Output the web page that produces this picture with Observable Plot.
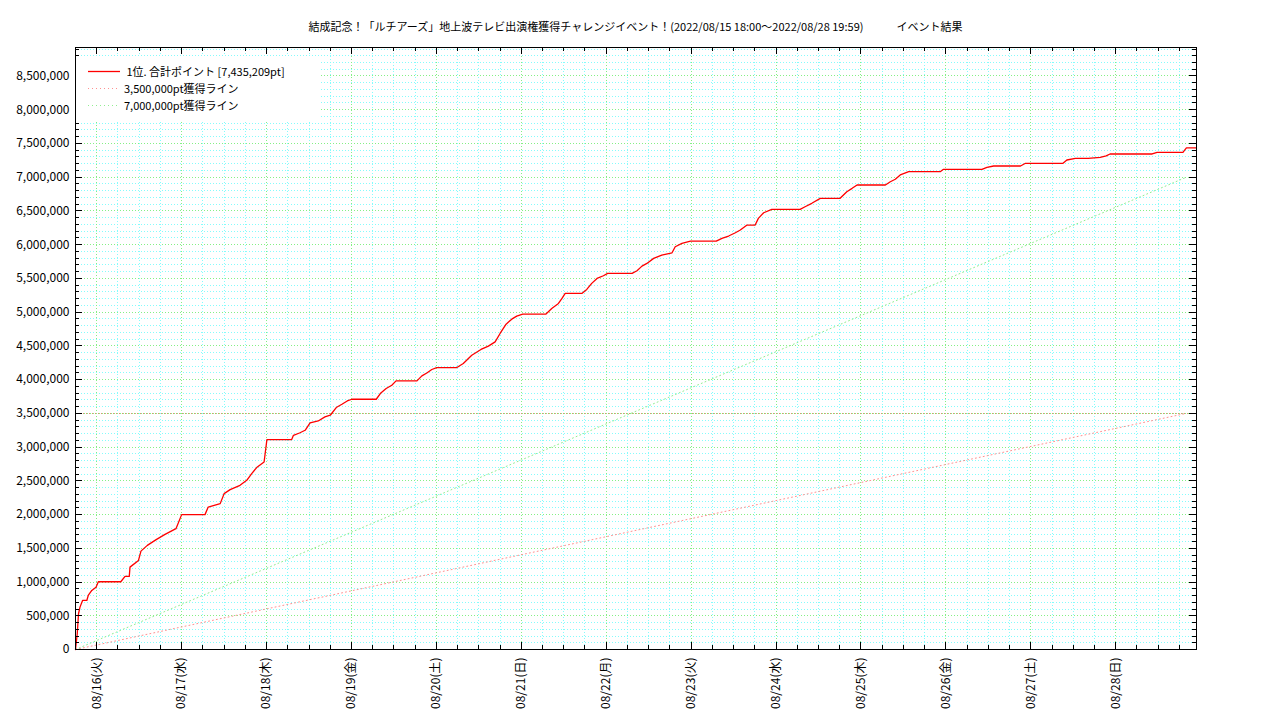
<!DOCTYPE html>
<html><head><meta charset="utf-8">
<script src="https://cdn.jsdelivr.net/npm/d3@7"></script>
<script src="https://cdn.jsdelivr.net/npm/@observablehq/plot@0.6"></script>
<style>
body{margin:0;background:#fff;font-family:"Noto Sans CJK JP","Noto Sans",sans-serif;color:#000;}
#wrap{position:relative;width:1280px;height:720px;overflow:hidden;}
#title{position:absolute;left:75px;width:1121px;top:17px;text-align:center;font-size:11px;line-height:18px;white-space:pre;}
#chart{position:absolute;left:0;top:40px;}
#legend{position:absolute;left:76px;top:56px;width:245px;height:65px;background:#fff;font-size:11px;}
#legend svg{position:absolute;left:0;top:0;}
#legend .t{position:absolute;white-space:pre;line-height:14px;}
</style></head>
<body>
<div id="wrap">
  <div id="title"></div>
  <div id="chart"></div>
  <div id="legend"></div>
</div>
<script>
// ---- data ----
const eventTitle = "結成記念！「ルチアーズ」地上波テレビ出演権獲得チャレンジイベント！(2022/08/15 18:00〜2022/08/28 19:59)";
const resultLabel = "イベント結果";
const eventStart = "2022-08-15T18:00:00Z";
const eventEnd = "2022-08-28T19:59:00Z";
const axisEnd = "2022-08-28T22:50:00Z";
const rank = 1;
const finalPoints = 7435209;
const targetA = 3500000;
const targetB = 7000000;

// elapsed hours since the event start
const hoursSinceStart = [
  0, 0.5, 0.85, 1.27, 2.0, 3.2, 3.6, 4.6, 5.8, 6.45,
  12.8, 14.0, 15.2, 15.4, 17.8, 18.5, 20.3, 22.8, 25.3, 28.4,
  30.0, 36.6, 37.5, 40.9, 42.0, 43.7, 46.5, 48.4, 49.8, 51.2,
  53.3, 54.1, 61.1, 61.6, 63.3, 64.9, 66.3, 68.6, 70.5, 72.0,
  73.7, 75.3, 76.8, 78.1, 85.0, 86.3, 87.8, 89.4, 90.6, 96.5,
  97.9, 99.3, 100.7, 102.1, 107.8, 109.6, 112.0, 114.6, 116.7, 118.6,
  120.0, 121.7, 123.3, 124.7, 126.4, 132.9, 134.6, 136.5, 137.5, 138.4,
  143.1, 144.5, 145.9, 147.4, 149.2, 150.4, 157.3, 158.7, 160.1, 161.5,
  163.4, 165.7, 168.6, 169.5, 171.4, 173.8, 181.1, 182.7, 184.6, 186.5,
  187.9, 189.8, 192.1, 193.0, 194.5, 196.8, 204.8, 206.2, 208.1, 210.5,
  216.1, 218.0, 219.5, 220.9, 228.9, 230.3, 231.7, 233.1, 235.5, 244.4,
  245.3, 256.2, 257.6, 259.5, 267.1, 268.5, 279.1, 280.2, 282.6, 286.2,
  289.6, 291.3, 292.4, 304.3, 305.7, 313.0, 313.98, 316.8
];
// cumulative points of the 1st place
const totalPoints = [
  0, 237000, 530000, 628000, 727000, 727000, 801000, 875000, 924000, 1004000,
  1004000, 1083000, 1083000, 1221000, 1320000, 1458000, 1543000, 1628000, 1706000, 1791000,
  1999000, 1999000, 2111000, 2162000, 2310000, 2369000, 2433000, 2507000, 2607000, 2696000,
  2779000, 3111000, 3111000, 3175000, 3209000, 3249000, 3358000, 3387000, 3447000, 3472000,
  3586000, 3635000, 3684000, 3709000, 3709000, 3803000, 3868000, 3917000, 3981000, 3981000,
  4055000, 4099000, 4150000, 4179000, 4179000, 4239000, 4362000, 4447000, 4496000, 4559000,
  4684000, 4822000, 4896000, 4941000, 4970000, 4970000, 5055000, 5129000, 5203000, 5277000,
  5277000, 5337000, 5426000, 5500000, 5539000, 5574000, 5574000, 5613000, 5682000, 5722000,
  5797000, 5846000, 5880000, 5969000, 6019000, 6053000, 6053000, 6093000, 6128000, 6177000,
  6217000, 6291000, 6291000, 6390000, 6473000, 6524000, 6524000, 6562000, 6613000, 6687000,
  6687000, 6785000, 6835000, 6884000, 6884000, 6933000, 6969000, 7033000, 7082000, 7082000,
  7117000, 7117000, 7147000, 7166000, 7166000, 7206000, 7206000, 7255000, 7280000, 7280000,
  7295000, 7315000, 7344000, 7344000, 7369000, 7369000, 7435209, 7435209
];

const dayTickDates = ["2022-08-16","2022-08-17","2022-08-18","2022-08-19","2022-08-20","2022-08-21","2022-08-22","2022-08-23","2022-08-24","2022-08-25","2022-08-26","2022-08-27","2022-08-28"];
const dayTickLabels = ["08/16(火)","08/17(水)","08/18(木)","08/19(金)","08/20(土)","08/21(日)","08/22(月)","08/23(火)","08/24(水)","08/25(木)","08/26(金)","08/27(土)","08/28(日)"];
const yTickValues = [0,500000,1000000,1500000,2000000,2500000,3000000,3500000,4000000,4500000,5000000,5500000,6000000,6500000,7000000,7500000,8000000,8500000];

// ---- build ----
const fmt = d3.format(",");
const t0 = new Date(eventStart), t1 = new Date(eventEnd), tEnd = new Date(axisEnd);
const series = hoursSinceStart.map((h, i) => ({t: new Date(+t0 + h * 3600e3), v: totalPoints[i]}));
const lineA = [{t: t0, v: 0}, {t: t1, v: targetA}];
const lineB = [{t: t0, v: 0}, {t: t1, v: targetB}];
const dayDates = dayTickDates.map(s => new Date(s + "T00:00:00Z"));
const labelMap = new Map(dayDates.map((d, i) => [+d, dayTickLabels[i]]));
const minorX = d3.utcHour.every(6).range(t0, tEnd).filter(d => d.getUTCHours() !== 0);
const yMax = finalPoints * 1.2;
const minorY = d3.range(0, yMax, 100000).filter(v => v % 500000 !== 0);

const W = 1280, H = 680, mL = 75, mR = 84, mT = 7, mB = 71;
const pH = H - mT - mB, pW = W - mL - mR;
const dots = "1,2";
const cyan = "#85fcfc", green = "#85f085";
const pink = "#ff9090", lgreen = "#90ee90";
const crisp = {shapeRendering: "crispEdges"};

const chart = Plot.plot({
  width: W, height: H,
  marginLeft: mL, marginRight: mR, marginTop: mT, marginBottom: mB,
  x: {type: "utc", domain: [t0, tEnd]},
  y: {domain: [0, yMax]},
  style: {fontFamily: "'Noto Sans CJK JP', sans-serif", fontSize: "12px", color: "#000", background: "#fff", overflow: "visible"},
  marks: [
    Plot.ruleX(minorX, {stroke: cyan, strokeDasharray: dots, ...crisp}),
    Plot.ruleY(minorY, {stroke: cyan, strokeDasharray: dots, ...crisp}),
    Plot.ruleX(dayDates, {stroke: green, strokeDasharray: dots, ...crisp}),
    Plot.ruleY(yTickValues, {stroke: green, strokeDasharray: dots, ...crisp}),
    Plot.ruleY([targetA], {stroke: "#e09070", strokeDasharray: dots, strokeDashoffset: 1, ...crisp}),
    Plot.line(lineA, {x: "t", y: "v", stroke: pink, strokeDasharray: "1,3", strokeWidth: 1}),
    Plot.line(lineB, {x: "t", y: "v", stroke: lgreen, strokeDasharray: "1,3", strokeWidth: 1}),
    Plot.line(series, {x: "t", y: "v", stroke: "#ff0000", strokeWidth: 1.3}),
    Plot.frame({stroke: "#000", ...crisp}),
    // inward tick marks (bottom/top, left/right)
    Plot.tickX(dayDates, {x: d => d, insetTop: pH - 7, stroke: "#000", ...crisp}),
    Plot.tickX(dayDates, {x: d => d, insetBottom: pH - 7, stroke: "#000", ...crisp}),
    Plot.tickX(minorX, {x: d => d, insetTop: pH - 4, stroke: "#000", ...crisp}),
    Plot.tickX(minorX, {x: d => d, insetBottom: pH - 4, stroke: "#000", ...crisp}),
    Plot.tickY(yTickValues, {y: d => d, insetRight: pW - 7, stroke: "#000", ...crisp}),
    Plot.tickY(yTickValues, {y: d => d, insetLeft: pW - 7, stroke: "#000", ...crisp}),
    Plot.tickY(minorY, {y: d => d, insetRight: pW - 4, stroke: "#000", ...crisp}),
    Plot.tickY(minorY, {y: d => d, insetLeft: pW - 4, stroke: "#000", ...crisp}),
    Plot.axisY({ticks: yTickValues, tickSize: 0, tickPadding: 6, tickFormat: fmt, label: null, fontSize: 12}),
    Plot.axisX({ticks: dayDates, tickSize: 0, tickPadding: 8, tickRotate: -90, tickFormat: d => labelMap.get(+d), label: null, fontSize: 12})
  ]
});
document.getElementById("chart").appendChild(chart);

document.getElementById("title").textContent = eventTitle + "　　　" + resultLabel;

// legend
const legendItems = [
  {label: ` ${rank}位. 合計ポイント [${fmt(finalPoints)}pt]`, stroke: "#ff0000", dash: null, width: 1.3},
  {label: `${fmt(targetA)}pt獲得ライン`, stroke: pink, dash: "1,3", width: 1},
  {label: `${fmt(targetB)}pt獲得ライン`, stroke: lgreen, dash: "1,3", width: 1}
];
const lg = d3.select("#legend");
const lsvg = lg.append("svg").attr("width", 245).attr("height", 65);
legendItems.forEach((it, i) => {
  const cy = 15.5 + i * 17;
  lsvg.append("line").attr("x1", 12).attr("x2", 44).attr("y1", cy).attr("y2", cy)
    .attr("stroke", it.stroke).attr("stroke-width", it.width).attr("stroke-dasharray", it.dash);
  lg.append("div").attr("class", "t").style("left", "48px").style("top", (cy - 8) + "px").text(it.label);
});
</script>
</body></html>
